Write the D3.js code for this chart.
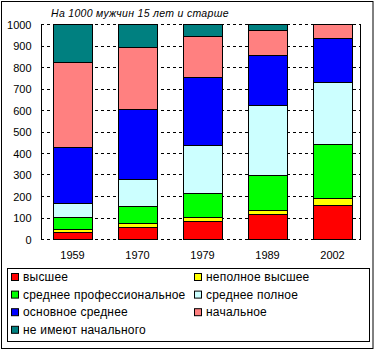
<!DOCTYPE html>
<html><head><meta charset="utf-8">
<script src="https://cdn.jsdelivr.net/npm/d3@7"></script>
<style>body{margin:0;background:#fff}svg{display:block}</style>
</head><body>
<svg id="c" width="375" height="350"></svg>
<script>
const years = ["1959","1970","1979","1989","2002"];
const seriesNames = ["высшее","неполное высшее","среднее профессиональное","среднее полное","основное среднее","начальное","не имеют начального"];
const vHigher      = [32, 56, 84, 116, 157];
const vIncomplete  = [15, 19, 18, 19, 33];
const vProf        = [55, 78, 112, 162, 250];
const vFullSec     = [65, 125, 221, 325, 289];
const vBasicSec    = [259, 326, 317, 232, 204];
const vPrimary     = [396, 288, 191, 117, 67];
const vNone        = [178, 108, 57, 29, 0];
const yTicks = [0,100,200,300,400,500,600,700,800,900,1000];
const title = "На 1000 мужчин 15 лет и старше";
const colors = ["#FF0000","#FFFF00","#00FF00","#CCFFFF","#0000FF","#FF8080","#008080"];

const values = [vHigher, vIncomplete, vProf, vFullSec, vBasicSec, vPrimary, vNone];
const rows = years.map((yr,i)=>{const o={year:yr}; seriesNames.forEach((s,k)=>o[s]=values[k][i]); return o;});
const stacked = d3.stack().keys(seriesNames)(rows);

const svg = d3.select("#c");
const font = "Arial, 'Liberation Sans', sans-serif";
svg.append("rect").attr("x",1.5).attr("y",1.5).attr("width",371.5).attr("height",347).attr("fill","#fff").attr("stroke","#000");

const L=41, R=360, T=24, B=239;
const y = d3.scaleLinear().domain([0,1000]).range([B,T]);
const x = d3.scaleBand().domain(years).range([40,365]).paddingInner(0.4).paddingOuter(0.2);

// gridlines
svg.append("g").selectAll("line").data(yTicks).join("line")
  .attr("x1",L).attr("x2",R+1)
  .attr("y1",d=>Math.round(y(d))+0.5).attr("y2",d=>Math.round(y(d))+0.5)
  .attr("stroke","#000").attr("stroke-dasharray","3,3");

// axes
const ax = svg.append("g").attr("transform",`translate(${L+0.5},0)`)
  .call(d3.axisLeft(y).tickValues(yTicks).tickFormat(d3.format("d")).tickSize(0).tickPadding(10));
ax.select(".domain").attr("d",`M0,${T}V${B+1}`).attr("stroke","#000");
ax.selectAll("text").attr("font-family",font).attr("font-size","11px").attr("fill","#000")
  .attr("y", 0.5);
svg.append("line").attr("x1",R+0.5).attr("x2",R+0.5).attr("y1",T).attr("y2",B+1).attr("stroke","#000");

// bars
svg.append("g").selectAll("g").data(stacked).join("g").attr("fill",(d,i)=>colors[i])
  .selectAll("rect").data(d=>d).join("rect")
  .attr("x",d=>Math.round(x(d.data.year))+0.5)
  .attr("width",Math.round(x.bandwidth()))
  .attr("y",d=>Math.round(y(d[1]))+0.5)
  .attr("height",d=>Math.round(y(d[0]))-Math.round(y(d[1])))
  .attr("stroke","#000").attr("stroke-width",1);

// x labels
const xa = svg.append("g").attr("transform",`translate(0,${B})`)
  .call(d3.axisBottom(x).tickSize(0).tickPadding(12));
xa.select(".domain").remove();
xa.selectAll("text").attr("font-family",font).attr("font-size","11px").attr("fill","#000");

// title
svg.append("text").attr("x",51).attr("y",17).attr("font-family",font).attr("font-style","italic")
  .attr("font-size","10.5px").attr("letter-spacing","0.3px").text(title);

// legend
svg.append("rect").attr("x",7.5).attr("y",268.5).attr("width",362).attr("height",73).attr("fill","#fff").attr("stroke","#000");
const lg = svg.append("g").selectAll("g").data(seriesNames).join("g")
  .attr("transform",(d,i)=>`translate(${i%2===0?11:194},${273 + Math.floor(i/2)*17.6})`);
lg.append("rect").attr("x",0.5).attr("y",0.5).attr("width",7).attr("height",7)
  .attr("fill",(d,i)=>colors[i]).attr("stroke","#000");
lg.append("text").attr("x",12).attr("y",8).attr("font-family",font).attr("font-size","12px")
  .attr("letter-spacing","0.2px").text(d=>d);
</script>
</body></html>
